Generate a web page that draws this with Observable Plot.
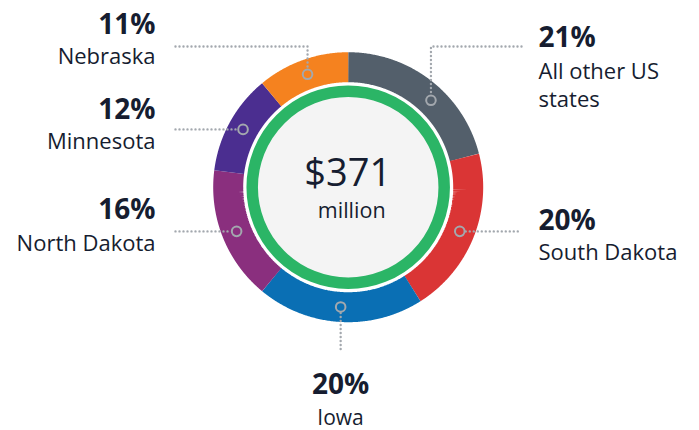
<!DOCTYPE html>
<html>
<head>
<meta charset="utf-8">
<script src="https://cdn.jsdelivr.net/npm/d3@7"></script>
<script src="https://cdn.jsdelivr.net/npm/@observablehq/plot@0.6"></script>
<style>
  html, body { margin: 0; padding: 0; background: #ffffff; }
  #chart svg { display: block; }
</style>
</head>
<body>
<div id="chart"></div>
<script>
// ---- data ----
const categories = ["All other US states", "South Dakota", "Iowa", "North Dakota", "Minnesota", "Nebraska"];
const shares = [21, 20, 20, 16, 12, 11];
const nameLines = [["All other US", "states"], ["South Dakota"], ["Iowa"], ["North Dakota"], ["Minnesota"], ["Nebraska"]];
const segmentColors = ["#535f6b", "#da3535", "#0a6fb4", "#8a2f7e", "#4b2e90", "#f5821f"];
const centerValue = ["$371"];
const centerUnit = ["million"];

// ---- layout ----
const W = 699, H = 430;
const cx = 347.7, cy = 186.7;
const ringR = 120, ringW = 30;
const markerR = 120;
const font = "'Open Sans', 'Noto Sans', sans-serif";
const ink = "#161d30";
const dotColor = "#a3a8ae";

const total = d3.sum(shares);
const layout = {
  "All other US states": {shift: 5.8, anchor: "start", x: 538, pctY: 46, nameY: [78, 106], nameSize: 22,
    leader: (m) => [[521, 46], [m.x, 46], [m.x, m.y - 6]]},
  "South Dakota": {shift: 0, anchor: "start", x: 538, pctY: 229, nameY: [259.5], nameSize: 22,
    leader: (m) => [[m.x + 6, m.y], [521, m.y]]},
  "Iowa": {shift: 0, anchor: "middle", x: 340, pctY: 393.5, nameY: [424], nameSize: 21,
    leader: (m) => [[m.x, m.y + 6], [m.x, 352]]},
  "North Dakota": {shift: 0, anchor: "end", x: 155, pctY: 218.5, nameY: [250], nameSize: 22,
    leader: (m) => [[175, m.y], [m.x - 6, m.y]]},
  "Minnesota": {shift: 0, anchor: "end", x: 155, pctY: 118, nameY: [148], nameSize: 22,
    leader: (m) => [[175, m.y], [m.x - 6, m.y]]},
  "Nebraska": {shift: 0, anchor: "end", x: 155, pctY: 33, nameY: [63], nameSize: 22,
    leader: (m) => [[175, 46], [m.x, 46], [m.x, m.y - 6]]}
};

const polar = (r, deg) => ({x: cx + r * Math.sin(deg * Math.PI / 180), y: cy - r * Math.cos(deg * Math.PI / 180)});

// arc geometry (stroke path along the ring center), derived from shares
const arcPts = [];
const markers = [];
const leaders = [];
const pctTexts = [];
const nameTexts = [];
let cum = 0;
categories.forEach((c, i) => {
  const a0 = cum / total * 360;
  const a1 = (cum + shares[i]) / total * 360;
  cum += shares[i];
  const n = Math.max(2, Math.ceil((a1 - a0) / 0.5));
  for (let k = 0; k <= n; k++) {
    const p = polar(ringR, a0 + (a1 - a0) * k / n);
    arcPts.push({cat: c, x: p.x, y: p.y});
  }
  const L = layout[c];
  const m = polar(markerR, (a0 + a1) / 2 + L.shift);
  markers.push({cat: c, x: m.x, y: m.y});
  L.leader(m).forEach(([x, y]) => leaders.push({cat: c, x, y}));
  pctTexts.push({x: L.x, y: L.pctY, text: `${shares[i]}%`, anchor: L.anchor, size: 28});
  nameLines[i].forEach((t, j) => nameTexts.push({x: L.x, y: L.nameY[j], text: t, anchor: L.anchor, size: L.nameSize}));
});

const textMarks = (data, opts) => ["start", "middle", "end"].map(a =>
  Plot.text(data.filter(d => d.anchor === a), {x: "x", y: "y", text: "text", textAnchor: a, lineAnchor: "bottom",
    fontSize: d => d.size, fill: ink, fontFamily: font, ...opts}));

const chart = Plot.plot({
  width: W, height: H,
  margin: 0,
  x: {domain: [0, W], range: [0, W], axis: null},
  y: {domain: [0, H], range: [0, H], axis: null},
  color: {domain: categories, range: segmentColors},
  style: {background: "#ffffff", fontFamily: font},
  marks: [
    // colored ring
    Plot.line(arcPts, {x: "x", y: "y", z: "cat", stroke: "cat", strokeWidth: ringW, strokeLinecap: "butt", strokeLinejoin: "miter", curve: "linear"}),
    // inner disc with green ring
    Plot.dot([{x: cx, y: cy}], {x: "x", y: "y", r: 96, fill: "#f4f4f4", stroke: "#2bb566", strokeWidth: 11.5}),
    // leader lines (dotted)
    Plot.line(leaders, {x: "x", y: "y", z: "cat", stroke: dotColor, strokeWidth: 2.4, strokeDasharray: "0,4", strokeLinecap: "round", curve: "linear"}),
    // markers
    Plot.dot(markers, {x: "x", y: "y", r: 4.8, fill: "none", stroke: dotColor, strokeWidth: 2}),
    // labels
    ...textMarks(pctTexts, {fontWeight: 700}),
    ...textMarks(nameTexts, {fontWeight: 400}),
    // center text
    Plot.text(centerValue, {x: () => cx - 0.5, y: () => 185, text: d => d, textAnchor: "middle", lineAnchor: "bottom", fontSize: 38, fill: ink, fontFamily: font}),
    Plot.text(centerUnit, {x: () => cx + 3.5, y: () => 217.5, text: d => d, textAnchor: "middle", lineAnchor: "bottom", fontSize: 21.5, fill: ink, fontFamily: font})
  ]
});
document.getElementById("chart").appendChild(chart);
</script>
</body>
</html>
